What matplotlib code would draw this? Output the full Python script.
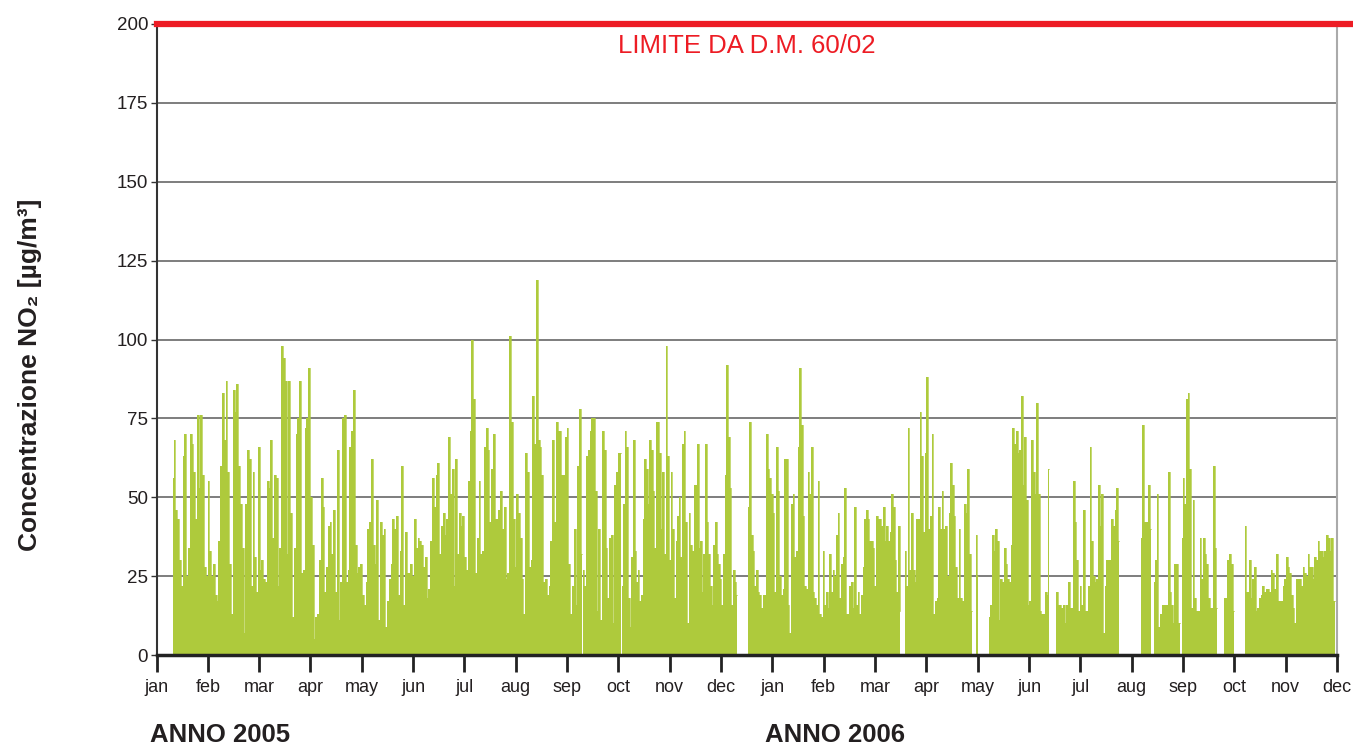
import numpy as np
import pandas as pd
import matplotlib
matplotlib.use('Agg')
import matplotlib.pyplot as plt

plt.rcParams['font.family'] = ['Liberation Sans', 'DejaVu Sans']

# NO2 concentrations [ug/m3], read off the chart, one list per measurement period
# (start date, end date, values)
s1 = ('2005-01-11', '2005-09-21', [
    56, 68, 46, 43, 30, 22, 63, 70, 25, 34,
    70, 67, 58, 43, 76, 53, 76, 57, 28, 25,
    55, 33, 25, 29, 19, 17, 36, 60, 83, 68,
    87, 58, 29, 13, 84, 77, 86, 60, 48, 34,
    7, 48, 65, 62, 22, 58, 31, 20, 66, 27,
    30, 24, 23, 55, 53, 68, 37, 57, 56, 22,
    34, 98, 94, 87, 32, 87, 45, 12, 34, 70,
    75, 87, 26, 27, 72, 75, 91, 50, 35, 5,
    12, 13, 30, 56, 47, 20, 28, 41, 42, 32,
    46, 20, 65, 11, 23, 75, 76, 23, 27, 66,
    71, 84,
    35, 26, 28, 29, 19, 16, 23, 40, 42, 62,
    35, 29, 49, 11, 42, 38, 40, 9, 17, 24,
    29, 43, 40, 44, 19, 33, 60, 16, 39, 26,
    26, 29, 25, 43, 34, 37, 36, 35, 28, 31,
    18, 21, 36, 56, 47, 57, 61, 32, 41, 45,
    38, 43, 69, 51, 59, 22, 62, 32, 45, 41,
    44, 31, 27, 55, 71, 100, 81, 26, 37, 55,
    32, 33, 66, 72, 65, 42, 59, 70, 43, 43,
    46, 52, 40, 47, 24, 26, 101, 74, 43, 28,
    51, 45, 37, 24, 13, 64, 58, 28, 30, 82,
    67, 119, 68, 66, 57, 23, 24,
    19, 22, 36, 68, 42, 74, 71, 71, 57, 57,
    69, 72, 29, 13, 22, 40, 16, 60, 78, 32])
s2 = ('2005-09-22', '2005-10-15', [
    27, 22, 63, 65, 71, 75, 75, 52, 14, 40, 11, 71, 65, 34, 18, 37, 38, 10,
    54, 58, 64, 64])
s3 = ('2005-10-16', '2005-12-26', [
    22, 48, 71, 66, 18, 9, 31, 68, 33, 23, 27, 17, 19, 43, 62, 59, 48, 68,
    65, 52, 34, 74, 74, 64, 40, 58, 32, 98, 63, 30, 58, 40, 18, 36, 44, 50,
    31, 67, 71, 42, 10, 45, 35, 33, 54, 54, 67, 34, 36, 20, 32, 67, 42, 32,
    22, 16, 35, 42, 32, 29, 24, 16, 32, 57, 92, 69, 53, 16, 27, 23, 19])
s4 = ('2006-01-02', '2006-04-06', [
    47, 74, 38, 33, 22, 27, 20, 19, 15, 19, 19, 70, 59, 56, 51, 45, 20, 66,
    52, 25, 19, 21, 62, 62, 16, 7, 48, 51, 31, 33, 66, 91, 73, 44, 22, 21,
    58, 51, 66, 20, 18, 16, 55, 13, 12, 33, 16, 20, 15, 32, 20, 27, 25, 38,
    45, 18, 29, 31, 53, 13, 13, 22, 23, 15, 47, 16, 20, 13, 19, 28, 43, 46,
    43, 36, 36, 34, 22, 44, 43, 43, 41, 47, 36, 41, 36, 39, 51, 47, 30, 20,
    41, 14])
s5 = ('2006-04-09', '2006-05-20', [
    33, 22, 72, 27, 45, 27, 23, 43, 43, 77, 63, 39, 64, 88, 40, 44, 70, 13,
    17, 18, 47, 40, 52, 40, 41, 25, 45, 61, 54, 44, 28, 18, 40, 18, 17, 48,
    45, 59, 32, 14])
s6 = ('2006-05-23', '2006-05-24', [38, 25])
s7 = ('2006-05-31', '2006-07-07', [
    12, 16, 38, 33, 40, 36, 11, 24, 23, 34, 29, 24, 23, 35, 72, 67, 71, 64,
    65, 82, 54, 69, 49, 16, 17, 68, 58, 51, 80, 51, 14, 13, 13, 20, 19, 59])
s8 = ('2006-07-11', '2006-08-19', [
    8, 20, 16, 16, 15, 16, 10, 16, 23, 15, 15, 55, 42, 30, 14, 22, 16, 46,
    14, 14, 22, 66, 36, 25, 23, 24, 54, 41, 51, 7, 22, 30, 30, 30, 43, 41,
    46, 53, 36])
s9 = ('2006-09-02', '2006-09-08', [37, 73, 42, 42, 54, 40])
s10 = ('2006-09-10', '2006-09-26', [
    23, 30, 51, 9, 13, 16, 16, 16, 16, 58, 20, 16, 10, 29, 29, 10, 10])
s11 = ('2006-09-27', '2006-10-19', [
    37, 56, 48, 81, 83, 59, 15, 49, 18, 14, 14, 37, 24, 37, 32, 29, 18, 15,
    15, 60, 34, 15])
s12 = ('2006-10-23', '2006-10-29', [18, 18, 30, 32, 29, 14])
s13 = ('2006-11-05', '2006-12-31', [
    41, 20, 20, 30, 18, 24, 28, 14, 15, 18, 19, 22, 20, 21, 21, 20, 27, 26,
    21, 32, 17, 17, 17, 22, 24, 31, 28, 26, 19, 15, 10, 24, 24, 24, 22, 28,
    26, 25, 32, 28, 28, 24, 31, 30, 36, 33, 33, 31, 33, 38, 37, 33, 37, 17, 17])
periods = [s1, s2, s3, s4, s5, s6, s7, s8, s9, s10, s11, s12, s13]

months = ['jan', 'feb', 'mar', 'apr', 'may', 'jun',
          'jul', 'aug', 'sep', 'oct', 'nov', 'dec']
limit = 200
t0 = pd.Timestamp('2005-01-01')
ndays = 730

green = '#aeca3c'
red = '#ed1c24'
ink = '#231f20'

fig = plt.figure(figsize=(13.53, 7.49), dpi=100)
ax = fig.add_axes([156.5 / 1353, 94 / 749, 1180.5 / 1353, 631 / 749])

for start, end, vals in periods:
    d0 = (pd.Timestamp(start) - t0).days
    d1 = (pd.Timestamp(end) - t0).days
    x = np.linspace(d0, d1, len(vals))
    ax.fill_between(x, 0, vals, color=green, lw=0, step='mid')
    ax.plot(x, vals, color=green, lw=0.5, drawstyle='steps-mid')

ax.set_xlim(0, ndays)
ax.set_ylim(0, 200)

ax.set_yticks(np.arange(0, 201, 25))
for v in np.arange(25, 200, 25):
    ax.axhline(v, color='#5a5a5a', lw=1.1, zorder=0)
ax.axhline(limit, 0, 1.02, color=red, lw=4.5, clip_on=False, zorder=5)
ax.text(ndays / 2, 193, 'LIMITE DA D.M. 60/02', color=red, fontsize=18.5,
        ha='center', va='center')

ax.set_xticks(np.linspace(0, ndays, 24))
ax.set_xticklabels(months * 2)

ax.spines['top'].set_visible(False)
ax.spines['left'].set_color('#333333')
ax.spines['left'].set_linewidth(1.5)
ax.spines['bottom'].set_color('#222222')
ax.spines['bottom'].set_linewidth(2.5)
ax.spines['right'].set_color('#aaaaaa')
ax.spines['right'].set_linewidth(1.5)

ax.tick_params(axis='y', direction='out', length=4, width=1, colors='#333333',
               labelcolor=ink, labelsize=13.5, pad=2)
ax.tick_params(axis='x', direction='out', length=12, width=2, colors='#222222',
               labelcolor=ink, labelsize=13, pad=5)

fig.text(30 / 1353, 1 - 375 / 749, 'Concentrazione NO₂ [µg/m³]', rotation=90,
         fontsize=19, fontweight='bold', color=ink, ha='center', va='center')
fig.text(150 / 1353, 1 - 735 / 749, 'ANNO 2005', fontsize=18.5,
         fontweight='bold', color=ink, ha='left', va='center')
fig.text(765 / 1353, 1 - 735 / 749, 'ANNO 2006', fontsize=18.5,
         fontweight='bold', color=ink, ha='left', va='center')

fig.savefig('out.png', dpi=100)
